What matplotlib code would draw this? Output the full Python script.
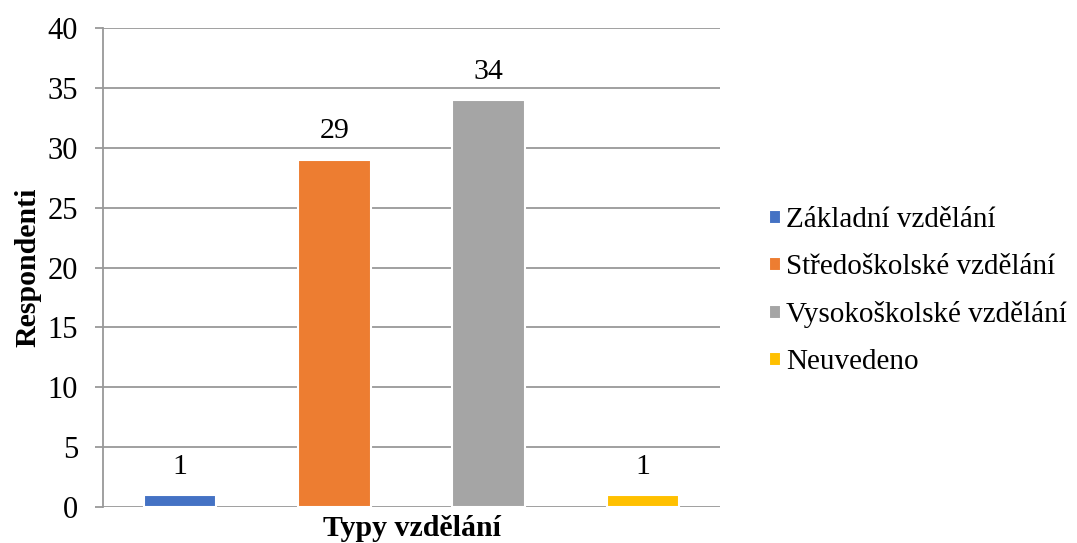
import matplotlib.pyplot as plt
import numpy as np

# data
kategorie = ['Základní vzdělání', 'Středoškolské vzdělání',
             'Vysokoškolské vzdělání', 'Neuvedeno']
respondenti = [1, 29, 34, 1]
barvy = ['#4472C4', '#ED7D31', '#A5A5A5', '#FFC000']

plt.rcParams['font.family'] = ['Liberation Serif', 'DejaVu Serif']

fig = plt.figure(figsize=(10.77, 5.43), dpi=100)
ax = fig.add_axes([0.0956, 0.0663, 0.573, 0.8821])

x = np.arange(len(kategorie))
bars = ax.bar(x, respondenti, width=0.47, color=barvy,
              edgecolor='white', linewidth=1.5, label=kategorie, zorder=3)

for xi, v in zip(x, respondenti):
    ax.annotate(str(v), (xi, v), xytext=(0, 11), textcoords='offset points',
                ha='center', va='bottom', fontsize=21.5)

ax.set_xlim(-0.5, 3.5)
ax.set_ylim(0, 40)
ax.set_yticks(range(0, 41, 5))
ax.set_xticks([])
ax.yaxis.grid(True, color='#999999', linewidth=1.3, zorder=0)
ax.tick_params(axis='y', length=6, width=1.3, color='#999999',
               labelsize=22, pad=12)

for s in ['top', 'right', 'bottom']:
    ax.spines[s].set_visible(False)
ax.spines['left'].set_color('#999999')
ax.spines['left'].set_linewidth(1.3)

ax.set_ylabel('Respondenti', fontsize=21.5, fontweight='bold', labelpad=4)
ax.set_xlabel('Typy vzdělání', fontsize=21.5, fontweight='bold', labelpad=6)

leg = ax.legend(loc='center left', bbox_to_anchor=(1.08, 0.45), frameon=False,
                fontsize=21, handlelength=0.38, handleheight=0.38,
                handletextpad=0.2, labelspacing=0.72,
                borderaxespad=0, borderpad=0)

fig.savefig('out.png', dpi=100)
